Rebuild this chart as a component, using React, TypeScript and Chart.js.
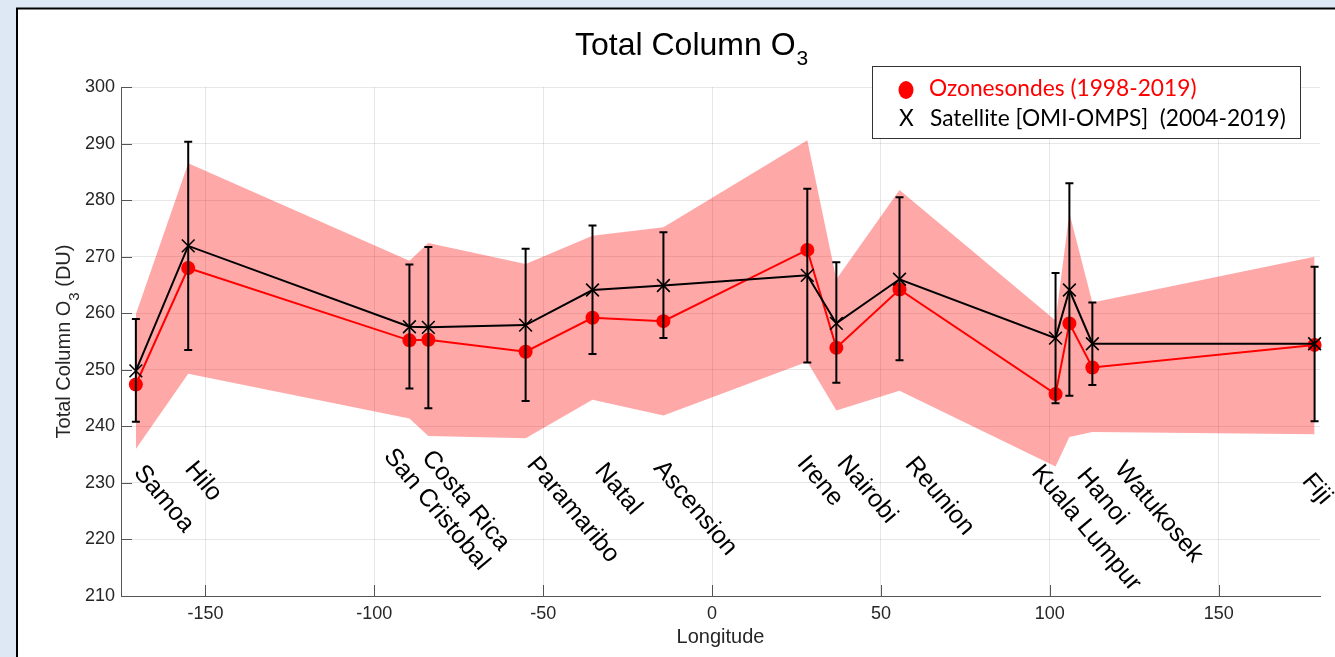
import React, { useEffect, useRef } from "react";
import { Chart, registerables } from "chart.js";

Chart.register(...registerables);

// ---------------- data ----------------
const stations = [
  "Samoa", "Hilo", "San Cristobal", "Costa Rica", "Paramaribo", "Natal", "Ascension",
  "Irene", "Nairobi", "Reunion", "Kuala Lumpur", "Hanoi", "Watukosek", "Fiji",
];
const longitudes = [-170.6, -155.1, -89.6, -84.0, -55.2, -35.4, -14.4, 28.2, 36.8, 55.5, 101.7, 105.8, 112.6, 178.4];
const sondeValues = [247.4, 268.0, 255.2, 255.3, 253.2, 259.2, 258.6, 271.2, 253.9, 264.2, 245.7, 258.2, 250.4, 254.4];
const satelliteValues = [249.8, 271.9, 257.6, 257.5, 257.9, 264.1, 264.9, 266.7, 258.2, 266.0, 255.6, 264.1, 254.6, 254.6];
const errorHigh = [259.0, 290.3, 268.6, 271.7, 271.4, 275.5, 274.3, 282.0, 269.0, 280.5, 267.1, 283.0, 261.9, 268.2];
const errorLow = [240.8, 253.5, 246.7, 243.2, 244.5, 252.8, 255.6, 251.3, 247.7, 251.7, 244.1, 245.4, 247.3, 240.9];
const bandUpper = [259.8, 286.5, 269.3, 272.4, 268.7, 273.7, 275.2, 290.6, 266.0, 281.8, 258.7, 277.7, 261.9, 270.0];
const bandLower = [236.0, 249.3, 241.4, 238.3, 237.9, 244.7, 241.9, 251.4, 242.8, 246.3, 232.9, 238.1, 239.0, 238.6];
// station name anchors (data units: longitude, DU)
const labelLon = [-167.4, -152.3, -93.4, -82.1, -51.0, -30.9, -13.5, 29.0, 40.8, 61.0, 98.4, 111.8, 123.0, 178.5];
const labelVal = [233.8, 234.4, 236.7, 236.4, 235.2, 234.1, 234.6, 235.4, 235.4, 235.2, 233.8, 233.2, 234.4, 232.3];
const xTicks = [-150, -100, -50, 0, 50, 100, 150];
const yTicks = [210, 220, 230, 240, 250, 260, 270, 280, 290, 300];
const xRange = [-175, 180];
const yRange = [210, 300];
const legendLabels = ["Ozonesondes (1998-2019)", "Satellite [OMI-OMPS]  (2004-2019)"];
const chartTitle = ["Total Column O", "3"];
const yTitle = ["Total Column O", "3", " (DU)"];
const xTitle = "Longitude";

// ---------------- styles ----------------
const FONT = "'Liberation Sans', Arial, Helvetica, sans-serif";
const LEGEND_FONT = "Lato, 'Open Sans', sans-serif";
const AXIS_COLOR = "#555555";
const TEXT_COLOR = "#262626";
const LABEL_ANGLE = (50 * Math.PI) / 180;
const LABEL_SIZE = 25;

const pts = (vals: number[]) => vals.map((v, i) => ({ x: longitudes[i], y: v }));

const decorPlugin = {
  id: "decor",
  beforeDraw(chart: any) {
    const { ctx, width, height } = chart;
    ctx.save();
    ctx.fillStyle = "#dde8f4";
    ctx.fillRect(0, 0, width, height);
    ctx.fillStyle = "#ffffff";
    ctx.fillRect(17, 8, width - 17, height - 8);
    ctx.strokeStyle = "#000000";
    ctx.lineWidth = 2;
    ctx.beginPath();
    ctx.moveTo(17, height);
    ctx.lineTo(17, 8.5);
    ctx.lineTo(width, 8.5);
    ctx.stroke();
    ctx.restore();
  },
  beforeDatasetsDraw(chart: any) {
    const { ctx, chartArea } = chart;
    const xs = chart.scales.x;
    const ys = chart.scales.y;
    ctx.save();
    ctx.strokeStyle = AXIS_COLOR;
    ctx.lineWidth = 1;
    ctx.beginPath();
    yTicks.forEach((v) => {
      const y = Math.round(ys.getPixelForValue(v)) + 0.5;
      ctx.moveTo(chartArea.left, y);
      ctx.lineTo(chartArea.left + 11, y);
    });
    xTicks.forEach((v) => {
      const x = Math.round(xs.getPixelForValue(v)) + 0.5;
      ctx.moveTo(x, chartArea.bottom);
      ctx.lineTo(x, chartArea.bottom - 11);
    });
    ctx.stroke();
    ctx.restore();
  },
  afterDatasetsDraw(chart: any) {
    const { ctx } = chart;
    const xs = chart.scales.x;
    const ys = chart.scales.y;
    ctx.save();
    ctx.strokeStyle = "#000000";
    ctx.lineWidth = 2;
    ctx.beginPath();
    longitudes.forEach((lon, i) => {
      const x = xs.getPixelForValue(lon);
      const yt = ys.getPixelForValue(errorHigh[i]);
      const yb = ys.getPixelForValue(errorLow[i]);
      ctx.moveTo(x, yt);
      ctx.lineTo(x, yb);
      ctx.moveTo(x - 4, yt);
      ctx.lineTo(x + 4, yt);
      ctx.moveTo(x - 4, yb);
      ctx.lineTo(x + 4, yb);
    });
    ctx.stroke();
    ctx.restore();
  },
  afterDraw(chart: any) {
    const { ctx } = chart;
    const xs = chart.scales.x;
    const ys = chart.scales.y;
    ctx.save();
    // station labels
    const lf = LABEL_SIZE;
    ctx.fillStyle = "#000000";
    ctx.font = `${lf}px ${FONT}`;
    ctx.textAlign = "left";
    ctx.textBaseline = "alphabetic";
    stations.forEach((name, i) => {
      const x = xs.getPixelForValue(labelLon[i]);
      const y = ys.getPixelForValue(labelVal[i]);
      ctx.save();
      ctx.translate(x, y);
      ctx.rotate(LABEL_ANGLE);
      ctx.fillText(name, 0, lf * 0.716);
      ctx.restore();
    });

    // chart title
    ctx.fillStyle = "#000000";
    ctx.font = `32px ${FONT}`;
    const tx = 575;
    const tBase = 55;
    ctx.fillText(chartTitle[0], tx, tBase);
    const tw = ctx.measureText(chartTitle[0]).width;
    ctx.font = `21px ${FONT}`;
    ctx.fillText(chartTitle[1], tx + tw + 1, tBase + 10);

    // y axis title
    ctx.fillStyle = TEXT_COLOR;
    ctx.save();
    ctx.translate(69.5, (chart.chartArea.top + chart.chartArea.bottom) / 2);
    ctx.rotate(-Math.PI / 2);
    ctx.font = `20px ${FONT}`;
    const w1 = ctx.measureText(yTitle[0]).width;
    const w3 = ctx.measureText(yTitle[2]).width;
    ctx.font = `15px ${FONT}`;
    const w2 = ctx.measureText(yTitle[1]).width;
    const start = -(w1 + w2 + w3) / 2;
    ctx.font = `20px ${FONT}`;
    ctx.fillText(yTitle[0], start, 0);
    ctx.fillText(yTitle[2], start + w1 + w2, 0);
    ctx.font = `15px ${FONT}`;
    ctx.fillText(yTitle[1], start + w1, 9);
    ctx.restore();

    // legend
    ctx.fillStyle = "#ffffff";
    ctx.fillRect(872.5, 66.5, 428, 72);
    ctx.strokeStyle = "#333333";
    ctx.lineWidth = 1;
    ctx.strokeRect(872.5, 66.5, 428, 72);
    ctx.font = `24px ${LEGEND_FONT}`;
    const m = ctx.measureText(legendLabels[1]).width;
    const fs = (24 * 356) / m;
    ctx.font = `${fs}px ${LEGEND_FONT}`;
    ctx.fillStyle = "#ff0000";
    ctx.beginPath();
    ctx.ellipse(906, 90, 7.5, 9, 0, 0, Math.PI * 2);
    ctx.fill();
    ctx.fillText(legendLabels[0], 929, 96);
    ctx.fillStyle = "#000000";
    ctx.fillText("X", 899, 126);
    ctx.fillText(legendLabels[1], 930, 126);
    ctx.restore();
  },
};

export default function App() {
  const ref = useRef<HTMLCanvasElement>(null);
  useEffect(() => {
    const canvas = ref.current;
    if (!canvas) return;
    const chart = new Chart(canvas, {
      type: "line",
      data: {
        datasets: [
          {
            label: "band upper",
            data: pts(bandUpper),
            borderWidth: 0,
            borderColor: "rgba(0,0,0,0)",
            pointRadius: 0,
            fill: "+1",
            backgroundColor: "rgba(255,0,0,0.34)",
            order: 4,
          },
          {
            label: "band lower",
            data: pts(bandLower),
            borderWidth: 0,
            borderColor: "rgba(0,0,0,0)",
            pointRadius: 0,
            fill: false,
            order: 3,
          },
          {
            label: legendLabels[0],
            data: pts(sondeValues),
            borderColor: "#ff0000",
            backgroundColor: "#ff0000",
            borderWidth: 2,
            pointRadius: 7,
            pointBorderWidth: 0,
            pointBackgroundColor: "#ff0000",
            fill: false,
            clip: false as any,
            order: 2,
          },
          {
            label: legendLabels[1],
            data: pts(satelliteValues),
            borderColor: "#000000",
            backgroundColor: "#000000",
            borderWidth: 2,
            pointStyle: "crossRot",
            pointRadius: 9,
            pointBorderWidth: 1.6,
            pointBorderColor: "#000000",
            fill: false,
            clip: false as any,
            order: 1,
          },
        ],
      },
      options: {
        animation: false,
        responsive: false,
        maintainAspectRatio: false,
        layout: { padding: { left: 0, top: 87, right: 15, bottom: 0 } },
        plugins: {
          legend: { display: false },
          title: { display: false },
          tooltip: { enabled: false },
        },
        elements: { line: { tension: 0 } },
        scales: {
          x: {
            type: "linear",
            min: xRange[0],
            max: xRange[1],
            afterBuildTicks: (s: any) => {
              s.ticks = xTicks.map((v) => ({ value: v }));
            },
            afterFit: (s: any) => {
              s.height = 61;
            },
            ticks: {
              font: { size: 18, family: FONT },
              color: TEXT_COLOR,
              padding: 7,
              maxRotation: 0,
              autoSkip: false,
            },
            grid: { color: "rgba(38,38,38,0.11)", drawTicks: false, lineWidth: 1 },
            border: { display: true, color: AXIS_COLOR, width: 1 },
            title: {
              display: true,
              text: xTitle,
              font: { size: 20, family: FONT },
              color: TEXT_COLOR,
              padding: { top: 0, bottom: 8 },
            },
          },
          y: {
            type: "linear",
            min: yRange[0],
            max: yRange[1],
            afterBuildTicks: (s: any) => {
              s.ticks = yTicks.map((v) => ({ value: v }));
            },
            afterFit: (s: any) => {
              s.width = 121;
            },
            ticks: {
              font: { size: 18, family: FONT },
              color: TEXT_COLOR,
              padding: 6,
              autoSkip: false,
            },
            grid: { color: "rgba(38,38,38,0.11)", drawTicks: false, lineWidth: 1 },
            border: { display: true, color: AXIS_COLOR, width: 1 },
          },
        },
      },
      plugins: [decorPlugin],
    } as any);
    return () => chart.destroy();
  }, []);
  return (
    <div style={{ position: "fixed", left: 0, top: 0, width: 1335, height: 657 }}>
      <canvas ref={ref} width={1335} height={657} style={{ display: "block" }} />
    </div>
  );
}
